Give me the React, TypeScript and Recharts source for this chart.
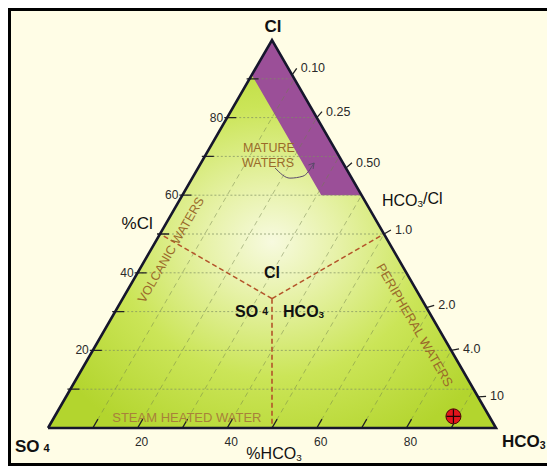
import React from 'react';
import { ComposedChart, XAxis, YAxis, Line, Area, Scatter, ReferenceDot } from 'recharts';

// ternary values in percent: Cl (top), HCO3 (right), SO4 (left)
const gridSteps = [10, 20, 30, 40, 50, 60, 70, 80, 90];
const clLabels = [20, 40, 60, 80];
const hco3Labels = [20, 40, 60, 80];
const ratioLabels = ['0.10', '0.25', '0.50', '1.0', '2.0', '4.0', '10'];
const ratioClPos = [91, 80, 67, 50, 31, 20, 8];
const samples = [{ cl: 3, hco3: 89, so4: 8 }];
const matureSo4Max = 9;
const matureClMin = 60;
// curved arrow of the "mature waters" note, in chart units
const matureArrow = [
  { x: 0.507, y: 0.67 },
  { x: 0.54, y: 0.644 },
  { x: 0.569, y: 0.649 },
  { x: 0.594, y: 0.683 },
];

const W = 547;
const H = 468;
const M = { top: 40, right: 51, bottom: 40, left: 48 };
const PW = W - M.left - M.right;
const PH = H - M.top - M.bottom;
const FONT = '"Liberation Sans", Arial, sans-serif';
const BROWN = '#9a6a2a';

const tern = (cl: number, hco3: number) => ({ x: (hco3 + cl / 2) / 100, y: cl / 100 });
const px = (d: number) => d / PW;
const py = (d: number) => d / PH;
type P = { x: number; y: number | null };
const segs = (list: P[][]) => list.flatMap((s) => [...s, { x: s[s.length - 1].x, y: null }]);

const triangle = [
  { x: 0, r: [0, 0] },
  { x: 0.5, r: [0, 1] },
  { x: 1, r: [0, 0] },
];

const s = matureSo4Max / 100;
const c = matureClMin / 100;
const mature = [
  { x: (1 - s) / 2, r: [1 - s, 1 - s] },
  { x: 0.5, r: [1 - 2 * s, 1] },
  { x: 1 - s - c / 2, r: [c, 2 * s + c] },
  { x: 1 - c / 2, r: [c, c] },
];

const edges = [tern(0, 0), tern(100, 0), tern(0, 100), tern(0, 0)];
const gridH = segs(gridSteps.map((v) => [tern(v, 0), tern(v, 100 - v)]));
const gridD = segs(gridSteps.map((v) => [tern(0, v), tern(100 - v, v)]));
const center = tern(100 / 3, 100 / 3);
const dividers = segs([
  [center, tern(50, 0)],
  [center, tern(50, 50)],
  [center, tern(0, 50)],
]);
const leftTicks = segs(
  gridSteps.map((v) => {
    const e = tern(v, 0);
    return [{ x: e.x - px(3), y: e.y }, { x: e.x + px(9), y: e.y }];
  })
);
const bottomTicks = segs(gridSteps.map((v) => [tern(0, v), tern(2.3, v)]));
const ratioEnds = ratioClPos.map((v) => {
  const e = tern(v, 100 - v);
  const vx = e.x * PW;
  const vy = e.y * PH;
  const n = Math.hypot(vx, vy);
  return { e, ux: vx / n, uy: vy / n };
});
const rightTicks = segs(
  ratioEnds.map(({ e, ux, uy }) => [e, { x: e.x + px(8 * ux), y: e.y + py(8 * uy) }])
);
const tip = matureArrow[matureArrow.length - 1];
const arrowHead = [
  { x: tip.x - px(5.7), y: tip.y - py(2) },
  tip,
  { x: tip.x - px(1), y: tip.y - py(6) },
];
const points = samples.map((d) => tern(d.cl, d.hco3));

const txt = (
  key: string,
  x: number,
  y: number,
  content: React.ReactNode,
  props: Record<string, unknown> = {},
  rotate = 0
) => (
  <ReferenceDot
    key={key}
    x={x}
    y={y}
    r={0}
    ifOverflow="visible"
    shape={(p: any) => (
      <text
        x={p.cx}
        y={p.cy}
        fontFamily={FONT}
        dominantBaseline="central"
        transform={rotate ? `rotate(${rotate} ${p.cx} ${p.cy})` : undefined}
        {...props}
      >
        {content}
      </text>
    )}
  />
);

const Marker = (p: any) => (
  <g>
    <circle cx={p.cx} cy={p.cy} r={7.5} fill="#e3141b" stroke="#4a0808" strokeWidth={1} />
    <line x1={p.cx - 7} x2={p.cx + 7} y1={p.cy} y2={p.cy} stroke="#1a0505" strokeWidth={1.2} />
    <line x1={p.cx} x2={p.cx} y1={p.cy - 7} y2={p.cy + 7} stroke="#1a0505" strokeWidth={1.2} />
  </g>
);

const sub = (t: string) => (
  <tspan fontSize="0.62em" dy="0.3em">
    {t}
  </tspan>
);

export default function App() {
  return (
    <div style={{ position: 'absolute', left: 0, top: 0, width: W, height: H, background: '#fff', overflow: 'hidden' }}>
      <div
        style={{
          position: 'absolute',
          left: 8,
          top: 8,
          width: W,
          height: 458,
          boxSizing: 'border-box',
          borderTop: '3px solid #000',
          borderLeft: '3px solid #000',
          borderBottom: '3px solid #000',
          background: '#fffde6',
        }}
      />
      <div style={{ position: 'absolute', left: 0, top: 0 }}>
        <ComposedChart width={W} height={H} margin={M}>
          <defs>
            <radialGradient id="triFill" cx="50%" cy="52%" r="58%">
              <stop offset="0%" stopColor="#f7fadf" />
              <stop offset="25%" stopColor="#e7f2a9" />
              <stop offset="60%" stopColor="#cbe558" />
              <stop offset="100%" stopColor="#b3d52e" />
            </radialGradient>
          </defs>
          <XAxis dataKey="x" type="number" domain={[0, 1]} hide />
          <YAxis type="number" domain={[0, 1]} hide />
          <Area data={triangle} dataKey="r" type="linear" stroke="none" fill="url(#triFill)" fillOpacity={1} isAnimationActive={false} dot={false} activeDot={false} />
          <Area data={mature} dataKey="r" type="linear" stroke="none" fill="#9b4f98" fillOpacity={1} isAnimationActive={false} dot={false} activeDot={false} />
          <Line data={gridH} dataKey="y" type="linear" stroke="#7f8f62" strokeOpacity={0.7} strokeWidth={1} strokeDasharray="2 2" dot={false} activeDot={false} isAnimationActive={false} />
          <Line data={gridD} dataKey="y" type="linear" stroke="#6d7f4a" strokeOpacity={0.6} strokeWidth={0.8} strokeDasharray="5 4" dot={false} activeDot={false} isAnimationActive={false} />
          <Line data={dividers} dataKey="y" type="linear" stroke="#b4542a" strokeWidth={1.6} strokeDasharray="5 3" dot={false} activeDot={false} isAnimationActive={false} />
          <Line data={leftTicks} dataKey="y" type="linear" stroke="#222" strokeWidth={1.3} dot={false} activeDot={false} isAnimationActive={false} />
          <Line data={bottomTicks} dataKey="y" type="linear" stroke="#222" strokeWidth={1.3} dot={false} activeDot={false} isAnimationActive={false} />
          <Line data={rightTicks} dataKey="y" type="linear" stroke="#222" strokeWidth={1.3} dot={false} activeDot={false} isAnimationActive={false} />
          <Line data={edges} dataKey="y" type="linear" stroke="#16162c" strokeWidth={2.6} dot={false} activeDot={false} isAnimationActive={false} />
          <Line data={matureArrow} dataKey="y" type="monotone" stroke="#5a4a6a" strokeWidth={1} dot={false} activeDot={false} isAnimationActive={false} />
          <Line data={arrowHead} dataKey="y" type="linear" stroke="#5a4a6a" strokeWidth={1} dot={false} activeDot={false} isAnimationActive={false} />
          <Scatter data={points} dataKey="y" shape={Marker} isAnimationActive={false} />

          {clLabels.map((v) => {
            const e = tern(v, 0);
            return txt(`cl${v}`, e.x - px(4), e.y, String(v), { fontSize: 12, fill: '#2a2a2a', textAnchor: 'end' });
          })}
          {hco3Labels.map((v) => {
            const e = tern(0, v);
            return txt(`h${v}`, e.x + px(4), -py(14), String(v), { fontSize: 12, fill: '#2a2a2a', textAnchor: 'middle' });
          })}
          {ratioEnds.map(({ e, ux, uy }, i) =>
            txt(`r${i}`, e.x + px(8 * ux + 4), e.y + py(8 * uy), ratioLabels[i], { fontSize: 12.5, fill: '#2a2a2a', textAnchor: 'start' })
          )}

          {txt('clTop', 0.502, 1.034, 'Cl', { fontSize: 17, fontWeight: 700, fill: '#111', textAnchor: 'middle' })}
          {txt('pcl', 0.199, 0.526, '%Cl', { fontSize: 17, fill: '#111', textAnchor: 'middle' })}
          {txt('ratio', 0.7455, 0.5876, <>HCO{sub('3')}<tspan dy="-0.3em">/Cl</tspan></>, { fontSize: 16, fill: '#111', textAnchor: 'start' })}
          {txt('clMid', 0.5, 0.3995, 'Cl', { fontSize: 16, fontWeight: 700, fill: '#111', textAnchor: 'middle' })}
          {txt('so4Mid', 0.491, 0.3015, <>SO<tspan fontSize="0.65em" dx="4">4</tspan></>, { fontSize: 16, fontWeight: 700, fill: '#111', textAnchor: 'end' })}
          {txt('hco3Mid', 0.5246, 0.3015, <>HCO{sub('3')}</>, { fontSize: 16, fontWeight: 700, fill: '#111', textAnchor: 'start' })}
          {txt('so4', -0.0737, -0.0464, <>SO<tspan fontSize="0.65em" dx="4" dy="0.15em">4</tspan></>, { fontSize: 17, fontWeight: 700, fill: '#111', textAnchor: 'start' })}
          {txt('hco3', 1.0134, -0.036, <>HCO{sub('3')}</>, { fontSize: 17, fontWeight: 700, fill: '#111', textAnchor: 'start' })}
          {txt('phco3', 0.5045, -0.067, <>%HCO{sub('3')}</>, { fontSize: 16, fill: '#111', textAnchor: 'middle' })}

          {txt('volc', 0.2746, 0.4588, 'VOLCANIC WATERS', { fontSize: 12.5, fill: BROWN, textAnchor: 'middle' }, -60)}
          {txt('peri', 0.819, 0.2655, 'PERIPHERAL WATERS', { fontSize: 13, fill: BROWN, textAnchor: 'middle' }, 60)}
          {txt('steam', 0.31, 0.028, 'STEAM HEATED WATER', { fontSize: 13, fill: '#a8813a', textAnchor: 'middle' })}
          {txt('mat1', 0.493, 0.7216, 'MATURE', { fontSize: 12.5, fill: BROWN, textAnchor: 'middle' })}
          {txt('mat2', 0.491, 0.683, 'WATERS', { fontSize: 12.5, fill: BROWN, textAnchor: 'middle' })}
        </ComposedChart>
      </div>
    </div>
  );
}
